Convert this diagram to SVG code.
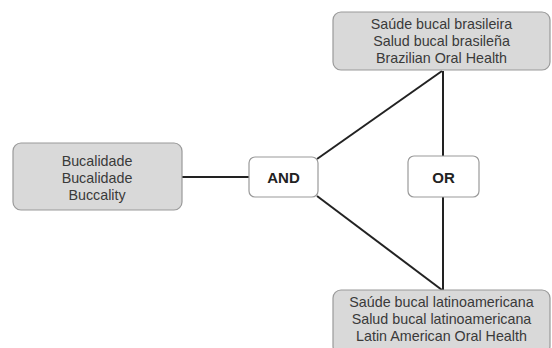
<svg xmlns="http://www.w3.org/2000/svg" width="552" height="348" viewBox="0 0 552 348">
<style>
.term{fill:#d9d9d9;stroke:#9a9a9a;stroke-width:1.2}
.op{fill:#ffffff;stroke:#9a9a9a;stroke-width:1.2}
.t{font-family:"Liberation Sans",Arial,sans-serif;font-size:14.3px;fill:#3a3a3a;text-anchor:middle}
.b{font-family:"Liberation Sans",Arial,sans-serif;font-size:15px;font-weight:bold;fill:#222;text-anchor:middle}
.c{stroke:#222;stroke-width:2;fill:none}
</style>
<rect width="552" height="348" fill="#fff"/>
<g id="connectors">
<line class="c" x1="182" y1="177" x2="249" y2="177"/>
<line class="c" x1="317" y1="159" x2="442" y2="71"/>
<line class="c" x1="317" y1="196" x2="442" y2="290"/>
<line class="c" x1="443" y1="71" x2="443" y2="157"/>
<line class="c" x1="443" y1="197" x2="443" y2="290"/>
</g>
<g id="left">
<rect class="term" x="13" y="143" width="169" height="67" rx="8"/>
<text class="t" x="97" y="166">Bucalidade</text>
<text class="t" x="97" y="183">Bucalidade</text>
<text class="t" x="97" y="200">Buccality</text>
</g>
<g id="and">
<rect class="op" x="249" y="157" width="69" height="40" rx="6"/>
<text class="b" x="283.5" y="182.5">AND</text>
</g>
<g id="or">
<rect class="op" x="408" y="156" width="71" height="41" rx="6"/>
<text class="b" x="443.5" y="182.5">OR</text>
</g>
<g id="top">
<rect class="term" x="333" y="12" width="217" height="58" rx="8"/>
<text class="t" x="441.5" y="29">Saúde bucal brasileira</text>
<text class="t" x="441.5" y="46">Salud bucal brasileña</text>
<text class="t" x="441.5" y="63">Brazilian Oral Health</text>
</g>
<g id="bottom">
<rect class="term" x="333" y="290" width="217" height="64" rx="8"/>
<text class="t" x="441.5" y="307">Saúde bucal latinoamericana</text>
<text class="t" x="441.5" y="324">Salud bucal latinoamericana</text>
<text class="t" x="441.5" y="341">Latin American Oral Health</text>
</g>
</svg>
